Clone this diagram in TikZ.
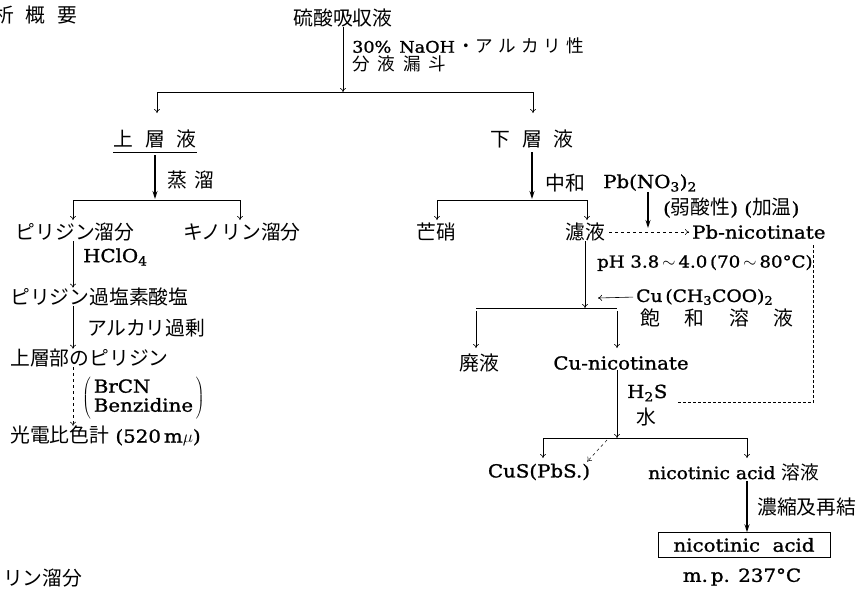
\documentclass[tikz,border=0pt]{standalone}
\usepackage{fontspec}
\setmainfont{DejaVu Serif}[FakeStretch=1.1,FakeBold=1.2]
\newfontfamily\jp[Scale=1.1]{Noto Sans CJK JP}
\usetikzlibrary{arrows.meta,calc}

\newcommand{\ja}[1]{{\jp #1}}
\newcommand{\jgap}{\hspace{.6em}}

\begin{document}
\begin{tikzpicture}[x=1pt,y=-1pt,
    every node/.style={inner sep=0pt,font=\fontsize{18}{21}\selectfont},
    small/.style={font=\fontsize{16}{18}\selectfont},
    arr/.style={-{To[length=4pt,width=6pt]},line width=.6pt},
    bold arr/.style={-{Stealth[length=8pt,width=5pt]},line width=1.1pt},
    dash arr/.style={-{To[length=4pt,width=6pt]},dashed,line width=.5pt},
    bar/.style={line width=.6pt},
    feed/.style={densely dashed,line width=.5pt}]
    \useasboundingbox (0,0) rectangle (865,590);

    % top of the scheme
    \node[anchor=west] (head) at (-6,15) {\ja{析\jgap 概\jgap 要}};
    \node (src) at (343,18) {\ja{硫酸吸収液}};
    \node[anchor=west,small] (naoh) at (352,46) {30\%\hspace{.5em}NaOH\,\ja{・ア\hspace{.3em}ル\hspace{.3em}カ\hspace{.3em}リ\hspace{.3em}性}};
    \node[anchor=west,small] (funnel) at (352,64) {\ja{分\hspace{.45em}液\hspace{.45em}漏\hspace{.45em}斗}};

    \coordinate (b1m) at (343,92);
    \coordinate (b1l) at (157,92);
    \coordinate (b1r) at (533,92);
    \draw[arr] (src.south) -- (b1m);
    \draw[bar] (b1l) -- (b1r);
    \draw[arr] (b1l) -- ++(0,21);
    \draw[arr] (b1r) -- ++(0,21);

    % upper layer (pyridine side)
    \node (upper) at (155,139) {\ja{上\jgap 層\jgap 液}};
    \draw[bar] ($(upper.south west)+(0,4)$) -- ($(upper.south east)+(0,4)$);
    \coordinate (b2m) at (155,199);
    \coordinate (b2l) at (73,200);
    \coordinate (b2r) at (240,200);
    \draw[bold arr] ($(upper.south)+(0,7)$) -- (b2m);
    \node[anchor=west] (distil) at (167,180) {\ja{蒸\hspace{.4em}溜}};
    \draw[bar] (b2l) -- (b2r);
    \draw[arr] (b2l) -- ++(0,20);
    \draw[arr] (b2r) -- ++(0,20);

    \node (pyr) at (75,232) {\ja{ピリジン溜分}};
    \node (quin) at (242,232) {\ja{キノリン溜分}};
    \node[anchor=west] (perc) at (10,297) {\ja{ピリジン過塩素酸塩}};
    \node[anchor=west] (top) at (10,358) {\ja{上層部のピリジン}};
    \node[anchor=west] (photo) at (10,436) {\ja{光電比色計}\ (520\,m$\mu$)};
    \node[anchor=west] (frag) at (3,578) {\ja{リン溜分}};

    \draw[arr] (pyr.south -| b2l) -- (perc.north -| b2l);
    \node[anchor=west] (hclo) at (83,257) {HClO\textsubscript{4}};
    \draw[arr] (perc.south -| b2l) -- (top.north -| b2l);
    \node[anchor=west] (alk) at (87,328) {\ja{アルカリ過剰}};
    \draw[dash arr] (top.south -| b2l) -- (photo.north -| b2l);
    \node[anchor=west] (reag) at (82,398) {$\left(\,\begin{tabular}{@{}l@{}}BrCN\\[-2pt]Benzidine\end{tabular}\,\right)$};

    % lower layer (nicotinic acid side)
    \node (lower) at (532,139) {\ja{下\jgap 層\jgap 液}};
    \coordinate (b3m) at (532,199);
    \coordinate (b3l) at (437,200);
    \coordinate (b3r) at (587,200);
    \draw[bold arr] ($(lower.south)+(0,4)$) -- (b3m);
    \node[anchor=west] (neut) at (545,183) {\ja{中和}};
    \node[anchor=west] (pbno) at (603,183) {Pb(NO\textsubscript{3})\textsubscript{2}};
    \draw[bar] (b3l) -- (b3r);
    \draw[arr] (b3l) -- ++(0,20);
    \draw[arr] (b3r) -- ++(0,20);

    \node (glau) at (436,232) {\ja{芒硝}};
    \node (filt) at (585,232) {\ja{濾液}};
    \coordinate (pbdrop) at (648,228);
    \draw[bold arr] (pbno.south -| pbdrop) -- (pbdrop);
    \node[anchor=west] (weak) at (663,208) {(\ja{弱酸性})\ (\ja{加温})};
    \node[anchor=west] (pbnic) at (692,232) {Pb-nicotinate};
    \draw[dash arr] ($(filt.east)+(4,0)$) -- ($(pbnic.west)+(-3,0)$);

    \coordinate (b4m) at (585,308);
    \coordinate (b4l) at (476,308);
    \coordinate (b4r) at (617,308);
    \draw[arr] (filt.south) -- (b4m);
    \node[anchor=west,font=\fontsize{16.5}{19}\selectfont] (ph) at (597,263) {pH 3.8$\,\sim\,$4.0\,(70$\,\sim\,$80°C)};
    \node[anchor=west,font=\fontsize{17}{20}\selectfont] (cuac) at (636,297) {Cu\,(CH\textsubscript{3}COO)\textsubscript{2}};
    \node[anchor=west] (sat) at (640,318) {\ja{飽\hspace{1.25em}和\hspace{1.25em}溶\hspace{1.25em}液}};
    \coordinate (cutip) at (598,298);
    \draw[arr,shorten <=3pt] (cuac.west) -- (cutip);
    \draw[bar] (b4l) -- (b4r);
    \draw[arr] ($(b4l)+(0,3)$) -- ++(0,37);
    \draw[arr] ($(b4r)+(0,3)$) -- ++(0,37);

    \node (waste) at (479,363) {\ja{廃液}};
    \node (cunic) at (621,363) {Cu-nicotinate};
    \coordinate (b5m) at (617,438);
    \coordinate (b5l) at (543,438);
    \coordinate (b5r) at (747,438);
    \draw[arr] (cunic.south -| b5m) -- (b5m);
    \node[anchor=west] (hs) at (627,393) {H\textsubscript{2}S};
    \node (water) at (646,417) {\ja{水}};
    \draw[feed] ($(pbnic.south east)+(-12,6)$) |- ($(hs.east)+(10,9)$);
    \draw[bar] (b5l) -- (b5r);
    \draw[arr] (b5l) -- ++(0,20);
    \draw[arr] (b5r) -- ++(0,20);

    \node (cus) at (539,472) {CuS(PbS.)};
    \node[anchor=west,font=\fontsize{17}{20}\selectfont] (nicsol) at (648,472) {nicotinic acid \ja{溶液}};
    \draw[dash arr] ($(b5m)+(-10,2)$) -- ($(cus.north east)+(-3,-2)$);
    \node[draw,line width=.5pt,minimum width=172pt,minimum height=25pt] (acid) at (744,545) {nicotinic\ \ acid};
    \draw[bold arr] (nicsol.south -| b5r) -- (acid.north -| b5r);
    \node[anchor=west] (conc) at (757,507) {\ja{濃縮及再結}};
    \node (mp) at (742,577) {m.\,p. 237°C};
\end{tikzpicture}
\end{document}
